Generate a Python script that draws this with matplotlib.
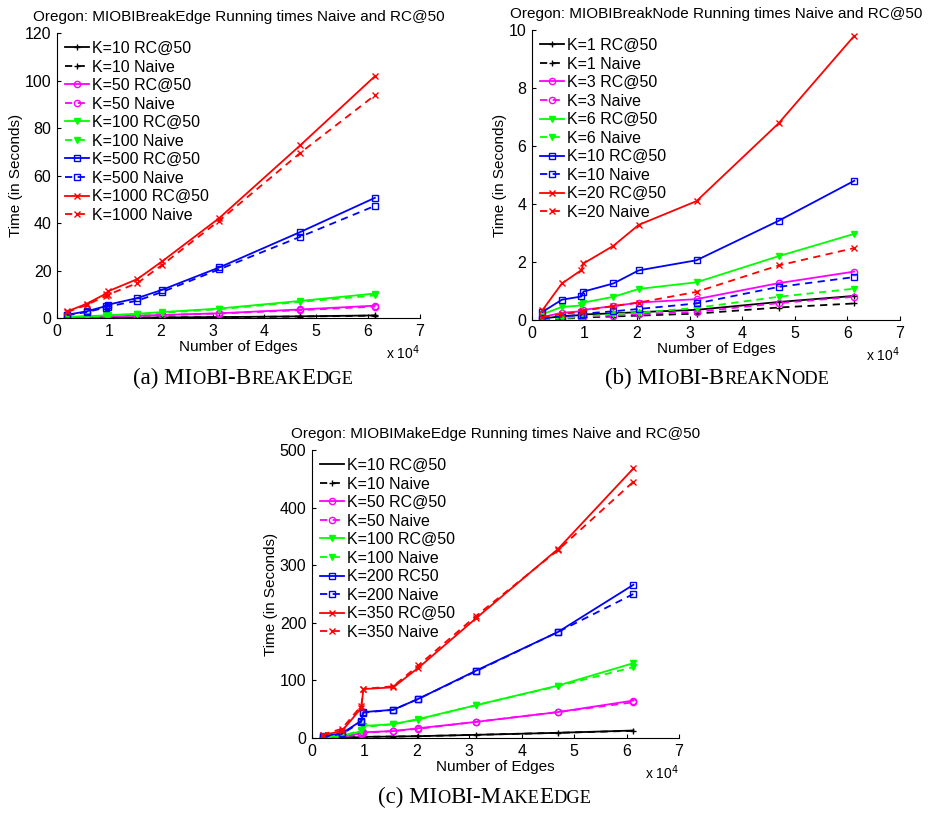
import matplotlib
matplotlib.use('Agg')
import matplotlib.pyplot as plt
from matplotlib.font_manager import FontProperties

plt.rcParams['font.family'] = ['Liberation Sans', 'DejaVu Sans']

# number of edges, in units of 10^4
edges = [0.2, 0.57, 0.94, 0.98, 1.55, 2.03, 3.13, 4.69, 6.13]

# (a) MIOBI-BreakEdge
k_a = [10, 50, 100, 500, 1000]
rc_a = [
    [0.05, 0.1, 0.14, 0.15, 0.2, 0.25, 0.4, 0.7, 1.1],
    [0.2, 0.4, 0.6, 0.7, 1.0, 1.3, 2.0, 3.6, 5.2],
    [0.5, 0.8, 1.1, 1.2, 1.8, 2.5, 4.0, 7.2, 10.3],
    [1.4, 2.8, 5.0, 5.6, 8.4, 11.9, 21.3, 36.2, 50.6],
    [2.8, 6.0, 10.2, 11.2, 16.4, 23.9, 42.1, 72.7, 101.8],
]
naive_a = [
    [0.04, 0.08, 0.12, 0.13, 0.18, 0.22, 0.36, 0.62, 1.0],
    [0.2, 0.35, 0.55, 0.6, 0.9, 1.2, 1.9, 3.3, 4.8],
    [0.4, 0.7, 0.9, 1.0, 1.6, 2.2, 3.7, 6.8, 9.5],
    [1.2, 2.5, 4.4, 4.8, 7.3, 11.0, 20.5, 34.2, 47.2],
    [2.5, 5.5, 9.3, 9.8, 14.7, 22.4, 41.0, 69.5, 93.8],
]

# (b) MIOBI-BreakNode
k_b = [1, 3, 6, 10, 20]
rc_b = [
    [0.05, 0.13, 0.17, 0.19, 0.23, 0.27, 0.35, 0.62, 0.83],
    [0.1, 0.25, 0.3, 0.35, 0.48, 0.6, 0.72, 1.27, 1.67],
    [0.2, 0.45, 0.5, 0.6, 0.8, 1.07, 1.3, 2.2, 2.97],
    [0.28, 0.7, 0.81, 0.98, 1.26, 1.71, 2.06, 3.42, 4.8],
    [0.34, 1.26, 1.72, 1.95, 2.56, 3.28, 4.1, 6.78, 9.8],
]
naive_b = [
    [0.02, 0.05, 0.07, 0.09, 0.12, 0.15, 0.22, 0.43, 0.57],
    [0.03, 0.08, 0.1, 0.12, 0.15, 0.2, 0.28, 0.58, 0.8],
    [0.02, 0.07, 0.1, 0.12, 0.2, 0.25, 0.42, 0.8, 1.08],
    [0.05, 0.12, 0.18, 0.22, 0.3, 0.38, 0.57, 1.14, 1.48],
    [0.1, 0.2, 0.28, 0.32, 0.48, 0.6, 0.97, 1.88, 2.48],
]

# (c) MIOBI-MakeEdge
k_c = [10, 50, 100, 200, 350]
rc_c = [
    [0.3, 0.7, 1.5, 2, 2.5, 3.2, 5.5, 9, 13],
    [1, 3, 8, 10, 12, 17, 28, 45, 65],
    [1, 3, 12, 21, 24, 33, 57, 91, 130],
    [3, 8, 30, 45, 49, 68, 117, 184, 266],
    [5, 12, 52, 85, 88, 122, 208, 328, 468],
]
naive_c = [
    [0.3, 0.7, 1.5, 2, 2.5, 3.2, 5.5, 9, 12.5],
    [1, 2, 7, 9, 12, 16, 28, 45, 62],
    [1, 3, 14, 19, 24, 32, 57, 90, 123],
    [2, 7, 28, 44, 49, 68, 116, 184, 250],
    [6, 16, 56, 85, 90, 126, 212, 326, 445],
]

colors = ['k', '#ff00ff', '#00ff00', '#0000ff', '#ff0000']
markers = ['+', 'o', 'v', 's', 'x']
fills = ['k', 'none', '#00ff00', 'none', '#ff0000']


def draw(ax, ks, rc, naive, title, ymax, ystep, rc_names=None, plain_first=False):
    for i, k in enumerate(ks):
        name = rc_names[i] if rc_names else f'K={k} RC@50'
        m = '' if (plain_first and i == 0) else markers[i]
        ax.plot(edges, rc[i], color=colors[i], marker=m, ms=4.5, mfc=fills[i],
                lw=1.3, label=name)
        ax.plot(edges, naive[i], color=colors[i], marker=markers[i], ms=4.5, mfc=fills[i],
                lw=1.3, ls=(0, (4, 3)), label=f'K={k} Naive')
    ax.set_xlim(0, 7)
    ax.set_ylim(0, ymax)
    ax.set_xticks(range(8))
    ax.set_yticks(range(0, ymax + 1, ystep))
    ax.spines['top'].set_visible(False)
    ax.spines['right'].set_visible(False)
    ax.tick_params(direction='in', length=3, labelsize=11.5, pad=4)
    ax.set_title(title, fontsize=11, pad=9)
    ax.set_xlabel('Number of Edges', fontsize=11, labelpad=1)
    ax.set_ylabel('Time (in Seconds)', fontsize=11, labelpad=1.5)
    ax.text(1.0, -0.12, r'x 10$^4$', transform=ax.transAxes, ha='right', va='center',
            fontsize=10)
    ax.legend(loc='upper left', frameon=False, fontsize=11.5, handlelength=1.5,
              handletextpad=0.2, labelspacing=0.22, borderpad=0.4, borderaxespad=0.1)


fig = plt.figure(figsize=(9.3, 8.19), dpi=100)
ax_a = fig.add_axes([0.0613, 0.6117, 0.3903, 0.348])
ax_b = fig.add_axes([0.572, 0.6093, 0.3957, 0.354])
ax_c = fig.add_axes([0.3355, 0.0989, 0.3946, 0.3516])

draw(ax_a, k_a, rc_a, naive_a, 'Oregon: MIOBIBreakEdge Running times Naive and RC@50', 120, 20)
draw(ax_b, k_b, rc_b, naive_b, 'Oregon: MIOBIBreakNode Running times Naive and RC@50', 10, 2)
draw(ax_c, k_c, rc_c, naive_c, 'Oregon: MIOBIMakeEdge Running times Naive and RC@50', 500, 100,
     rc_names=['K=10 RC@50', 'K=50 RC@50', 'K=100 RC@50', 'K=200 RC50', 'K=350 RC@50'],
     plain_first=True)

# captions in small caps: big and small pieces placed side by side
renderer = fig.canvas.get_renderer()


def advance(s, size):
    prop = FontProperties(family='Liberation Serif', size=size)
    w_full = renderer.get_text_width_height_descent('|' + s + '|', prop, ismath=False)[0]
    w_bars = renderer.get_text_width_height_descent('||', prop, ismath=False)[0]
    return w_full - w_bars


def caption(xc, y, parts, size=16.5):
    sizes = [size * 0.8 if small else size for _, small in parts]
    widths = [advance(s, sz) for (s, _), sz in zip(parts, sizes)]
    x = xc - sum(widths) / 2
    for (s, _), sz, w in zip(parts, sizes, widths):
        fig.text(x, y, s, fontsize=sz, family='Liberation Serif', va='baseline',
                 transform=None)
        x += w


H = 819
caption(243, H - 384, [('(a) MI', 0), ('O', 1), ('BI-B', 0), ('REAK', 1), ('E', 0), ('DGE', 1)])
caption(717, H - 384, [('(b) MI', 0), ('O', 1), ('BI-B', 0), ('REAK', 1), ('N', 0), ('ODE', 1)])
caption(485, H - 803, [('(c) MI', 0), ('O', 1), ('BI-M', 0), ('AKE', 1), ('E', 0), ('DGE', 1)])

fig.savefig('out.png', dpi=100)
